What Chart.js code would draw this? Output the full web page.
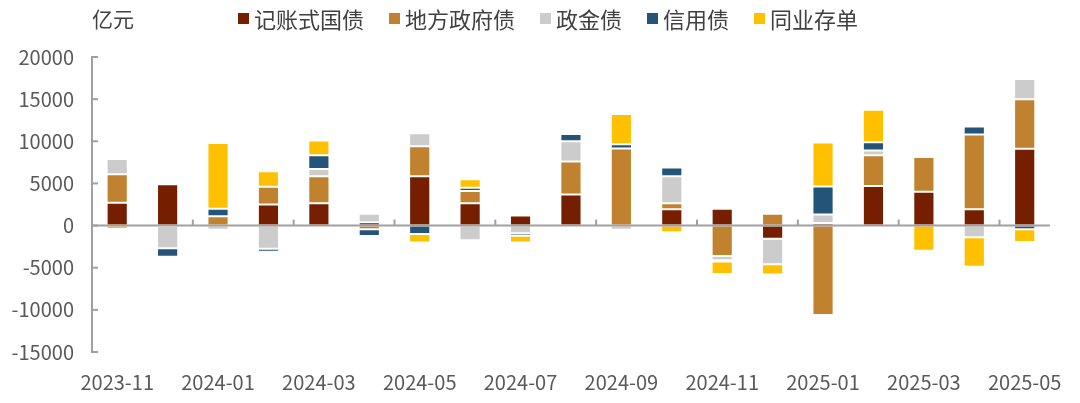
<!DOCTYPE html>
<html lang="zh">
<head>
  <meta charset="UTF-8" />
  <title>债券托管量变化</title>
  <script src="https://cdn.jsdelivr.net/npm/chart.js"></script>
  <style>
    body {
      margin: 0;
      background: #fff;
      font-family: 'Noto Sans CJK SC', sans-serif;
    }
    .wrap {
      position: relative;
      width: 1080px;
      height: 403px;
    }
    .unit {
      position: absolute;
      left: 92px;
      top: 3px;
      font-size: 21px;
      line-height: 30px;
      color: #404040;
    }
    #legend {
      position: absolute;
      left: 238px;
      top: 3px;
      display: flex;
      align-items: center;
      height: 30px;
      font-size: 22px;
      color: #404040;
    }
    #legend .item {
      display: flex;
      align-items: center;
      margin-right: 25px;
    }
    #legend .box {
      width: 11px;
      height: 11px;
      margin-right: 5px;
    }
  </style>
</head>
<body>

<div class="wrap">
  <canvas id="chart" width="1080" height="403"></canvas>
  <div class="unit">亿元</div>
  <div id="legend"></div>
</div>

<script>
const months = ['2023-11','2023-12','2024-01','2024-02','2024-03','2024-04','2024-05','2024-06','2024-07','2024-08',
  '2024-09','2024-10','2024-11','2024-12','2025-01','2025-02','2025-03','2025-04','2025-05'];

const guozhai  = [2700, 4900, 0, 2500, 2650, 400, 5850, 2650, 1200, 3700, 0, 1950, 2000, -1550, 300, 4700, 4000, 1950, 9100];
const difang   = [3400, -50, 1100, 2100, 3200, -450, 3550, 1450, 150, 3900, 9150, 700, -3600, 1400, -10600, 3650, 4150, 8850, 5900];
const zhengjin = [1800, -2650, -500, -2750, 850, 1000, 1550, -1750, -900, 2400, -500, 3200, -500, -3050, 1000, 550, 80, -1400, 2400];
const xinyong  = [0, -1000, 900, -350, 1650, -800, -1000, 400, -300, 850, 500, 1050, -150, 150, 3350, 1000, 0, 950, -450];
const cundan   = [-400, -200, 7800, 1850, 1750, -100, -1000, 1000, -800, 0, 3600, -800, -1500, -1200, 5200, 3850, -3000, -3500, -1500];

const yTicks = [-15000, -10000, -5000, 0, 5000, 10000, 15000, 20000];

const font = "'Noto Sans CJK SC', sans-serif";
const axisGray = '#a0a0a0';

function ds(label, data, color) {
  return {
    label: label,
    data: data,
    backgroundColor: color,
    borderColor: '#ffffff',
    borderWidth: 1,
    borderSkipped: false,
    barPercentage: 0.6,
    categoryPercentage: 0.7
  };
}

// zero line, inward y ticks, small marks on zero line
const axisDeco = {
  id: 'axisDeco',
  afterDatasetsDraw(chart) {
    const ctx = chart.ctx;
    const x = chart.scales.x, y = chart.scales.y;
    const area = chart.chartArea;
    const y0 = y.getPixelForValue(0);
    ctx.save();
    ctx.strokeStyle = axisGray;
    ctx.lineWidth = 2;
    ctx.beginPath();
    ctx.moveTo(area.left, y0);
    ctx.lineTo(area.right, y0);
    ctx.stroke();
    const step = x.getPixelForValue(1) - x.getPixelForValue(0);
    for (let i = 1; i < months.length - 1; i += 2) {
      const px = x.getPixelForValue(i) + step / 2;
      ctx.beginPath();
      ctx.moveTo(px, y0);
      ctx.lineTo(px, y0 - 6);
      ctx.stroke();
    }
    yTicks.forEach(v => {
      const py = y.getPixelForValue(v);
      ctx.beginPath();
      ctx.moveTo(area.left, py);
      ctx.lineTo(area.left + 6, py);
      ctx.stroke();
    });
    ctx.restore();
  }
};

const chart = new Chart(document.getElementById('chart'), {
  type: 'bar',
  data: {
    labels: months,
    datasets: [
      ds('记账式国债', guozhai, '#761F00'),
      ds('地方政府债', difang, '#C0822E'),
      ds('政金债', zhengjin, '#CCCCCC'),
      ds('信用债', xinyong, '#245579'),
      ds('同业存单', cundan, '#FFC000')
    ]
  },
  options: {
    responsive: false,
    animation: false,
    layout: { padding: { left: 0, right: 20, top: 57, bottom: 0 } },
    plugins: {
      legend: { display: false },
      tooltip: { enabled: false }
    },
    scales: {
      x: {
        stacked: true,
        grid: { display: false, drawTicks: false },
        border: { display: false },
        ticks: {
          autoSkip: false,
          maxRotation: 0,
          padding: 18,
          color: '#595959',
          font: { family: font, size: 20 },
          callback: function (v, i) { return i % 2 === 0 ? months[i] : ''; }
        },
        afterFit(scale) { scale.height = 51; }
      },
      y: {
        stacked: true,
        min: -15000,
        max: 20000,
        grid: { display: false, drawTicks: false },
        border: { display: true, color: axisGray, width: 2 },
        ticks: {
          stepSize: 5000,
          padding: 18,
          color: '#595959',
          font: { family: font, size: 20 },
          callback: function (v) { return String(v); }
        },
        afterFit(scale) { scale.width = 92; }
      }
    }
  },
  plugins: [axisDeco]
});

// legend from the chart's datasets
const legendEl = document.getElementById('legend');
chart.data.datasets.forEach(d => {
  const item = document.createElement('div');
  item.className = 'item';
  const box = document.createElement('span');
  box.className = 'box';
  box.style.background = d.backgroundColor;
  const txt = document.createElement('span');
  txt.textContent = d.label;
  item.appendChild(box);
  item.appendChild(txt);
  legendEl.appendChild(item);
});
</script>

</body>
</html>
